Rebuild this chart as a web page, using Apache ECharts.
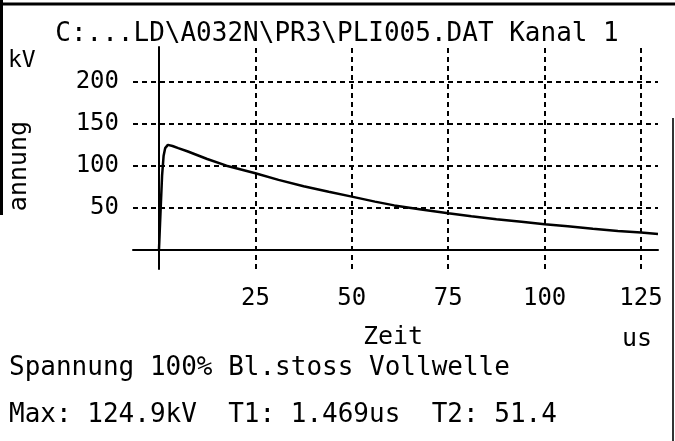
<!DOCTYPE html>
<html>
<head>
<meta charset="utf-8">
<script src="https://cdn.jsdelivr.net/npm/echarts@6/dist/echarts.min.js"></script>
<style>
	html, body { margin: 0; padding: 0; background: #fff; }
	#chart { width: 675px; height: 441px; }
</style>
</head>
<body>
<div id="chart"></div>
<script>
	// Messkurve (Zeit in us, Spannung in kV)
	var zeit = [0, 0.4, 0.8, 1.2, 1.6, 2.3, 3.5, 5, 7.5, 10, 12.5, 17.5, 25, 31, 37.5, 44, 50, 56, 61, 68, 75, 81, 87.5, 94, 100, 106, 112.5, 119, 125, 129.4];
	var spannung = [0, 45, 88, 112, 121, 124.9, 123.5, 121, 117, 112.5, 108, 100, 91, 83, 75.5, 68.8, 63, 57, 52.5, 47.5, 43, 39.5, 36, 33, 30, 27.5, 24.6, 22, 20, 18.3];
	var xTicks = [25, 50, 75, 100, 125];
	var yTicks = [50, 100, 150, 200];

	var titel = 'C:...LD\\A032N\\PR3\\PLI005.DAT Kanal 1';
	var zeile1 = 'Spannung 100% Bl.stoss Vollwelle';
	var zeile2 = 'Max: 124.9kV  T1: 1.469us  T2: 51.4';

	var font = '"DejaVu Sans Mono", "Liberation Mono", monospace';
	var chart = echarts.init(document.getElementById('chart'));

	var punkte = [];
	for (var i = 0; i < zeit.length; i++) {
		punkte.push([zeit[i], spannung[i]]);
	}
	var gitter = [];
	for (var k in yTicks) gitter.push({ yAxis: yTicks[k] });
	for (var k in xTicks) gitter.push({ xAxis: xTicks[k] });

	function text(x, y, str, size, align, rot) {
		return {
			type: 'text', x: x, y: y, rotation: rot || 0, silent: true,
			style: {
				text: str, fill: '#000', fontFamily: font, fontSize: size,
				align: align || 'left', verticalAlign: 'middle'
			}
		};
	}
	function linie(x1, y1, x2, y2, w, c) {
		return {
			type: 'line', silent: true,
			shape: { x1: x1, y1: y1, x2: x2, y2: y2 },
			style: { stroke: c || '#000', lineWidth: w }
		};
	}

	chart.setOption({
		backgroundColor: '#fff',
		animation: false,
		grid: {
			left: 133, right: 17, top: 47, bottom: 172,
			containLabel: false, outerBoundsMode: 'none'
		},
		xAxis: {
			type: 'value', min: -6.74, max: 129.4,
			axisLine: { onZero: true, lineStyle: { color: '#000', width: 2 } },
			axisTick: { show: false },
			splitLine: { show: false },
			axisLabel: {
				customValues: xTicks, margin: 18,
				color: '#000', fontFamily: font, fontSize: 24
			}
		},
		yAxis: {
			type: 'value', min: -23.6, max: 242,
			axisLine: { onZero: true, lineStyle: { color: '#000', width: 2 } },
			axisTick: { show: false },
			splitLine: { show: false },
			axisLabel: {
				customValues: yTicks, margin: 14,
				color: '#000', fontFamily: font, fontSize: 24
			}
		},
		series: [{
			type: 'line',
			data: punkte,
			showSymbol: false,
			smooth: false,
			lineStyle: { color: '#000', width: 2.5 },
			markLine: {
				silent: true,
				symbol: 'none',
				label: { show: false },
				lineStyle: { color: '#000', width: 2, type: [5, 4] },
				data: gitter
			}
		}],
		graphic: [
			linie(0, 4, 675, 4, 3),
			linie(1.5, 0, 1.5, 215, 3),
			linie(673, 118, 673, 441, 2, '#333'),
			text(337, 34, titel, 26, 'center'),
			text(8, 61, 'kV', 23),
			text(19, 166, 'annung', 25, 'center', Math.PI / 2),
			text(393, 337, 'Zeit', 25, 'center'),
			text(637, 339, 'us', 25, 'center'),
			text(9, 368, zeile1, 26),
			text(9, 415, zeile2, 26)
		]
	});
</script>
</body>
</html>
